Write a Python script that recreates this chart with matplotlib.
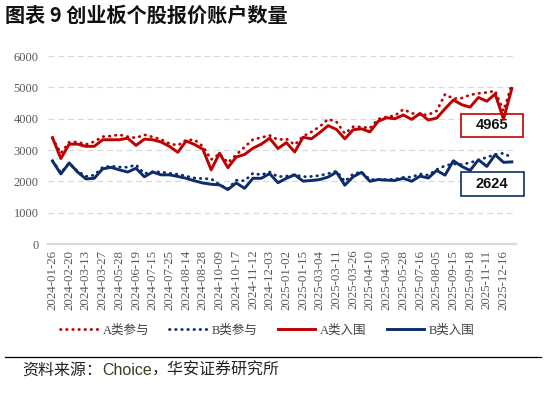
import matplotlib
matplotlib.use('Agg')
import matplotlib.pyplot as plt
from matplotlib.patches import Rectangle
from matplotlib.lines import Line2D

plt.rcParams['font.family'] = ['Liberation Serif', 'Noto Sans CJK SC']

tick_dates = ['2024-01-26', '2024-02-20', '2024-03-13', '2024-03-27', '2024-05-28',
              '2024-06-19', '2024-07-15', '2024-07-25', '2024-08-14', '2024-08-28',
              '2024-10-09', '2024-10-17', '2024-11-12', '2024-12-03', '2025-01-02',
              '2025-01-15', '2025-03-04', '2025-03-11', '2025-03-26', '2025-04-10',
              '2025-04-30', '2025-05-28', '2025-07-16', '2025-08-05', '2025-09-15',
              '2025-09-18', '2025-11-11', '2025-12-16']

# A类参与 (dotted red)
a_join = [3380, 2900, 3250, 3260, 3180, 3270, 3430, 3450, 3490, 3430,
          3390, 3490, 3420, 3340, 3210, 3150, 3320, 3330, 3120, 2700,
          2880, 2600, 2850, 3100, 3340, 3400, 3470, 3330, 3360, 3170,
          3440, 3580, 3750, 3990, 3900, 3530, 3745, 3740, 3700, 3990,
          4060, 4100, 4300, 4180, 4120, 4130, 4250, 4780, 4640, 4660,
          4760, 4810, 4840, 4890, 4250, 5100]
# B类参与 (dotted blue)
b_join = [2660, 2280, 2580, 2330, 2160, 2200, 2450, 2490, 2460, 2450,
          2530, 2250, 2310, 2300, 2260, 2230, 2170, 2110, 2090, 2080,
          1900, 1760, 2040, 2020, 2260, 2210, 2300, 2150, 2170, 2210,
          2150, 2160, 2190, 2250, 2330, 2000, 2240, 2300, 2060, 2060,
          2060, 2070, 2130, 2140, 2240, 2200, 2380, 2500, 2560, 2540,
          2600, 2680, 2770, 2860, 2900, 2760]
# A类入围 (solid red)
a_in = [3400, 2730, 3190, 3190, 3120, 3120, 3330, 3330, 3330, 3380,
        3150, 3350, 3330, 3260, 3120, 2930, 3290, 3180, 3030, 2370,
        2900, 2440, 2780, 2860, 3060, 3190, 3380, 3050, 3240, 2940,
        3410, 3360, 3560, 3780, 3660, 3360, 3650, 3680, 3580, 3920,
        4030, 4000, 4120, 3980, 4170, 3960, 4020, 4320, 4600, 4450,
        4370, 4680, 4560, 4790, 3990, 4965]
# B类入围 (solid blue)
b_in = [2650, 2240, 2590, 2300, 2080, 2100, 2400, 2450, 2370, 2300,
        2420, 2150, 2300, 2210, 2210, 2160, 2100, 2020, 1950, 1910,
        1890, 1740, 1950, 1780, 2100, 2100, 2250, 1960, 2100, 2210,
        2010, 2030, 2060, 2140, 2295, 1880, 2150, 2290, 2005, 2060,
        2040, 2030, 2100, 2005, 2170, 2110, 2350, 2200, 2660, 2480,
        2350, 2690, 2480, 2850, 2610, 2624]

red = '#C00000'
navy = '#0C2C6B'
x = list(range(len(a_in)))

fig = plt.figure(figsize=(5.46, 3.95), dpi=100)
ax = fig.add_axes([0.0885, 0.382, 0.8566, 0.476])

dot = (0, (0.2, 2.0))
ax.plot(x, a_join, color=red, lw=2.0, linestyle=dot, dash_capstyle='round', label='A类参与', zorder=3)
ax.plot(x, b_join, color=navy, lw=2.0, linestyle=dot, dash_capstyle='round', label='B类参与', zorder=3)
ax.plot(x, a_in, color=red, lw=2.1, label='A类入围', zorder=4)
ax.plot(x, b_in, color=navy, lw=2.1, label='B类入围', zorder=4)

ax.set_xlim(-0.5, len(x) - 0.5)
ax.set_ylim(0, 6000)
ax.set_yticks(range(0, 6001, 1000))
ax.set_xticks(range(0, len(x), 2))
ax.set_xticklabels(tick_dates, rotation=90)
ax.tick_params(axis='y', length=0, pad=7, labelsize=9, labelcolor='#595959')
ax.tick_params(axis='x', length=0, pad=4, labelsize=9.3, labelcolor='#595959')
ax.yaxis.grid(True, linestyle=(0, (4.8, 3)), color='#D9D9D9', lw=0.9)
ax.set_axisbelow(True)
for s in ['top', 'right', 'left']:
    ax.spines[s].set_visible(False)
ax.spines['bottom'].set_color('#D9D9D9')
ax.spines['bottom'].set_linewidth(1.6)

# value boxes
ax.add_patch(Rectangle((0.882, 0.571), 0.132, 0.121, transform=ax.transAxes, fill=True,
                       facecolor='white', edgecolor=red, lw=1.2, clip_on=False, zorder=2))
ax.text(0.948, 0.631, '4965', transform=ax.transAxes, ha='center', va='center',
        fontsize=10.5, family='Liberation Sans', fontweight='bold', color='#111111', zorder=2.5)
ax.add_patch(Rectangle((0.882, 0.257), 0.135, 0.128, transform=ax.transAxes, fill=True,
                       facecolor='white', edgecolor=navy, lw=1.2, clip_on=False, zorder=2))
ax.text(0.949, 0.321, '2624', transform=ax.transAxes, ha='center', va='center',
        fontsize=10.5, family='Liberation Sans', fontweight='bold', color='#111111', zorder=2.5)

fig.legend(loc='center', bbox_to_anchor=(0.49, 0.163), ncol=4, frameon=False,
           fontsize=9, handlelength=3.0, handletextpad=0.4, columnspacing=1.6,
           labelcolor='#404040')

fig.text(0.009, 0.962, '图表 9 创业板个股报价账户数量', ha='left', va='center',
         fontsize=14.5, fontweight='bold', family=['Noto Sans CJK SC'], color='#111111')

fig.add_artist(Line2D([0.009, 0.99], [0.0962, 0.0962], transform=fig.transFigure,
                      color='black', lw=0.9))
t1 = fig.text(0.04, 0.063, '资料来源：', ha='left', va='center', fontsize=11.5,
              family=['Noto Sans CJK SC'], color='#222222')
t2 = fig.text(0, 0, 'Choice', fontsize=11.5, family=['Liberation Sans'], color='#3F3A20')
t3 = fig.text(0, 0, '，华安证券研究所', fontsize=11.5, family=['Noto Sans CJK SC'], color='#222222')
fig.canvas.draw()
r = fig.canvas.get_renderer()
bb1 = t1.get_window_extent(r).transformed(fig.transFigure.inverted())
t2.set_position((bb1.x1, 0.063))
t2.set_va('center')
fig.canvas.draw()
bb2 = t2.get_window_extent(r).transformed(fig.transFigure.inverted())
t3.set_position((bb2.x1, 0.063))
t3.set_va('center')

fig.savefig('out.png', dpi=100)
